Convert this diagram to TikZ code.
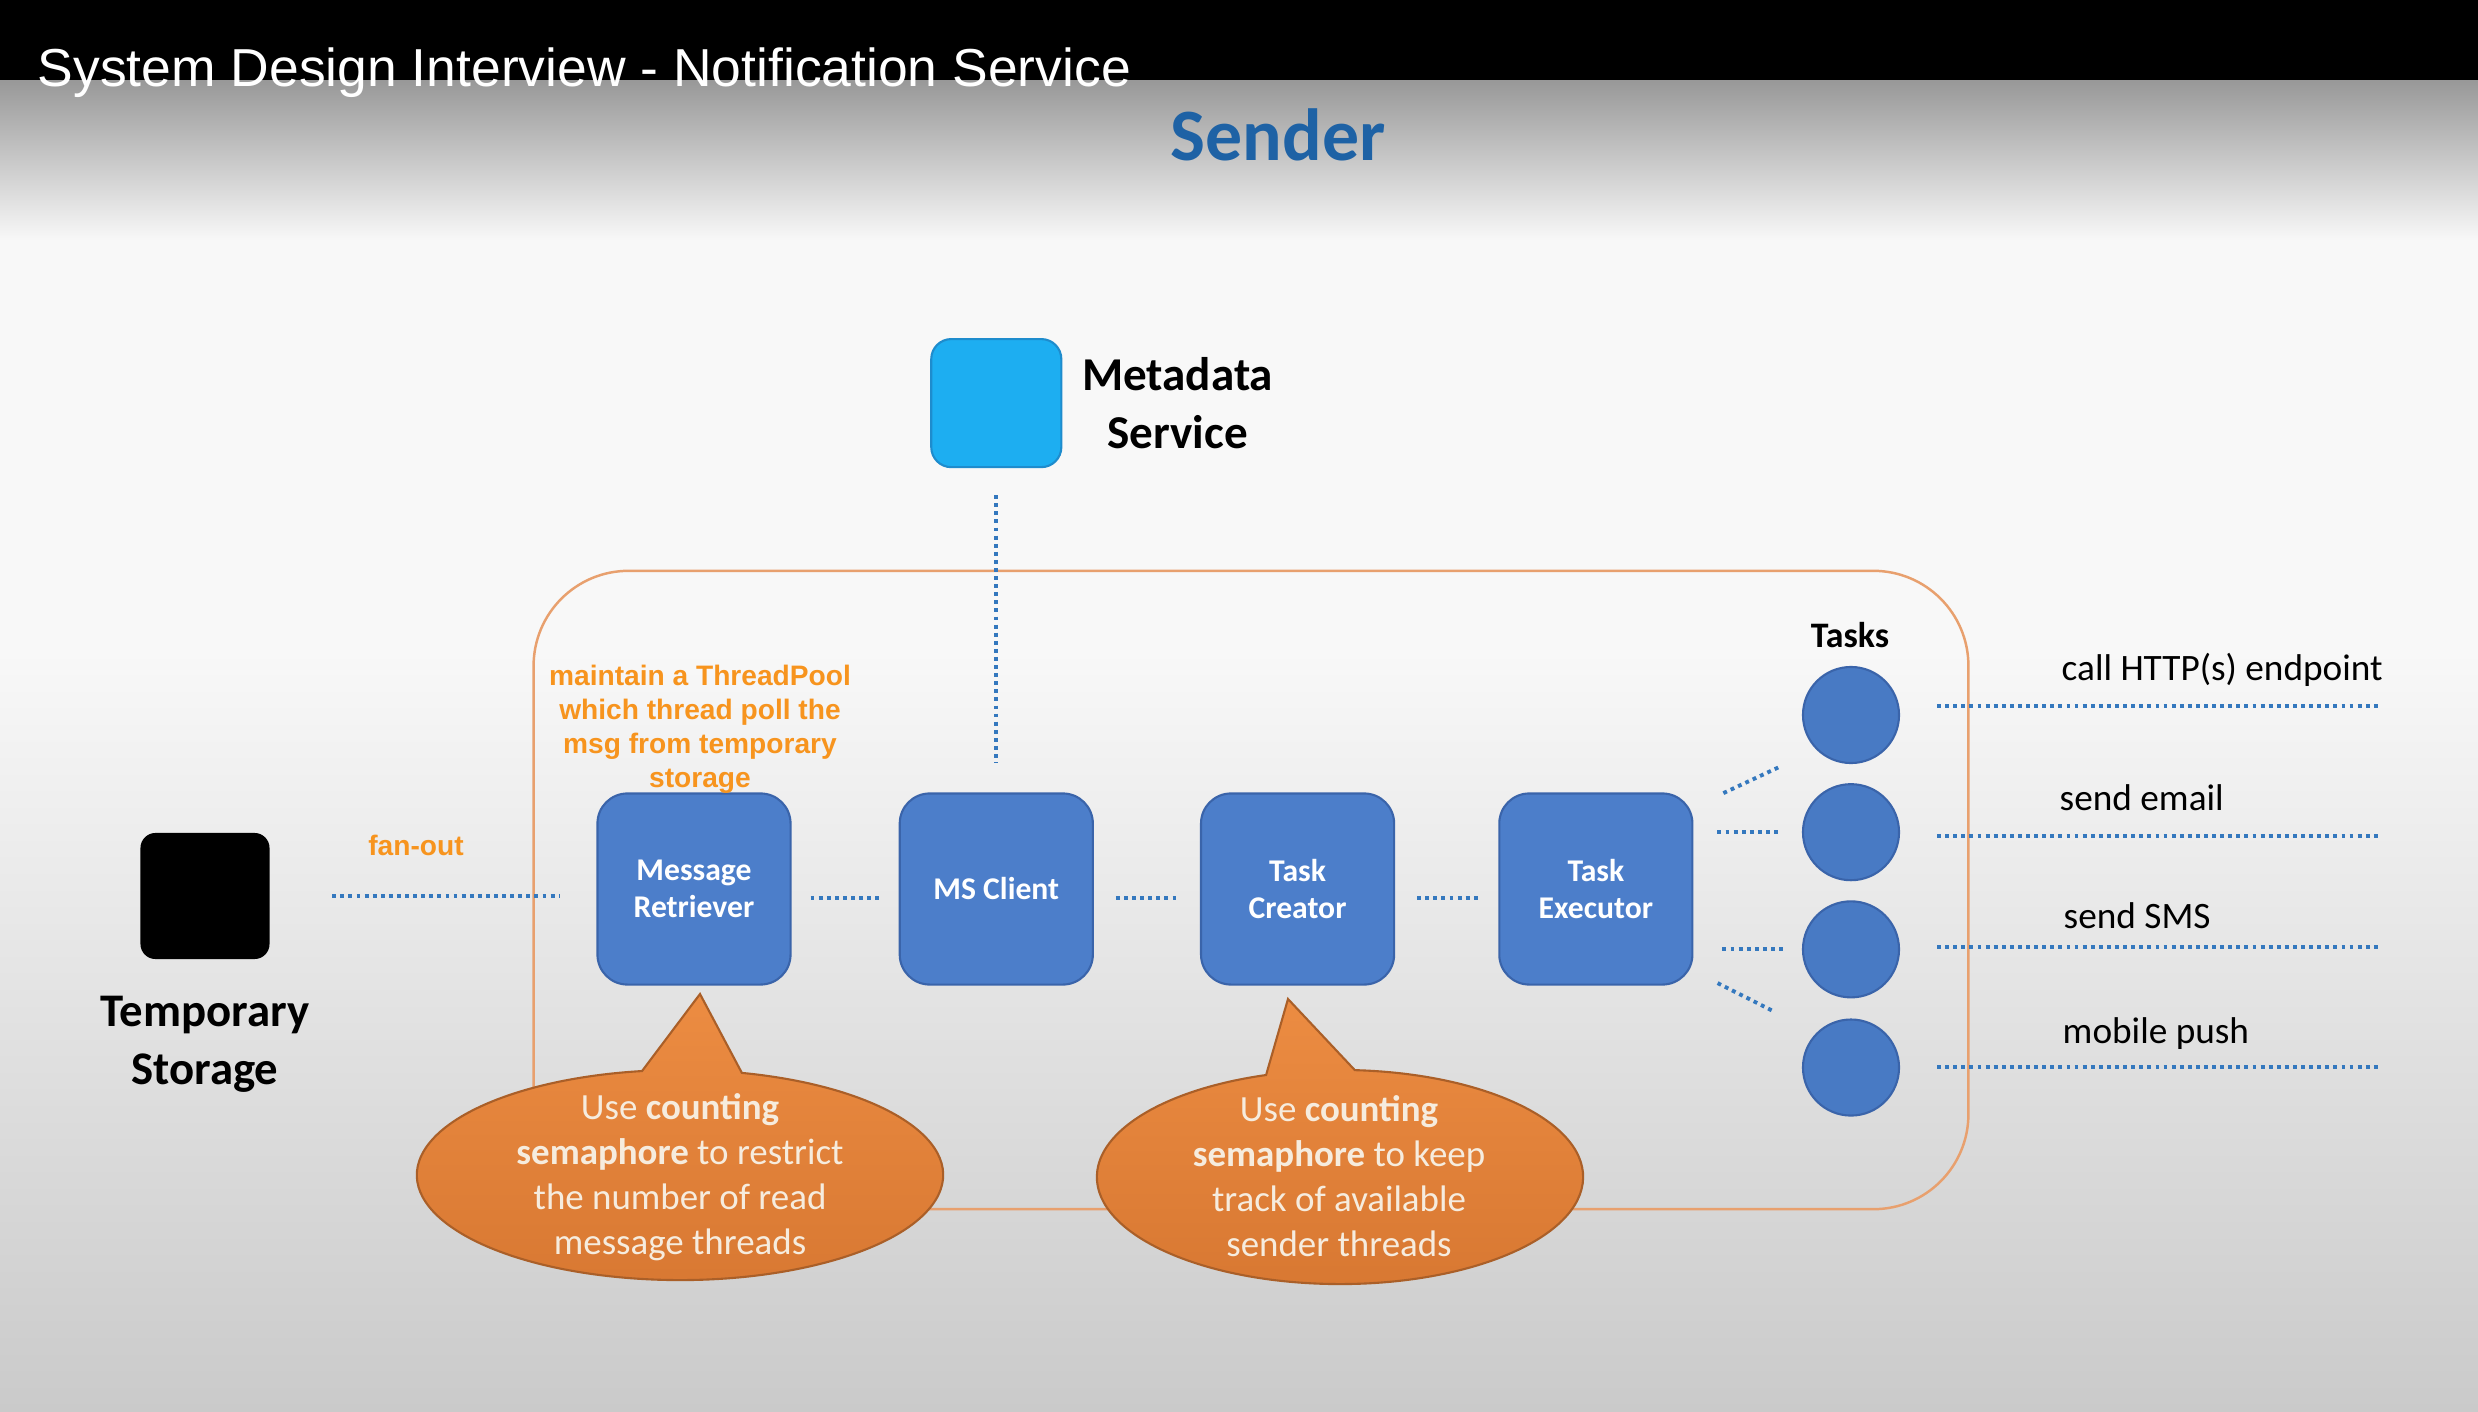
\documentclass[tikz,border=0pt]{standalone}
\usepackage{fontspec}
\setmainfont{Carlito}
\newfontfamily\arialfont{Liberation Sans}
\usetikzlibrary{positioning}
\definecolor{boxblue}{RGB}{76,126,202}
\definecolor{boxedge}{RGB}{58,100,170}
\definecolor{metacyan}{RGB}{29,174,241}
\definecolor{metaedge}{RGB}{30,140,205}
\definecolor{taskblue}{RGB}{72,122,196}
\definecolor{linkblue}{RGB}{52,120,190}
\definecolor{noteorange}{RGB}{247,148,30}
\definecolor{poolorange}{RGB}{232,160,110}
\definecolor{callouttop}{RGB}{236,140,66}
\definecolor{calloutbottom}{RGB}{216,120,50}
\definecolor{calloutedge}{RGB}{170,95,40}
\definecolor{callouttext}{RGB}{246,236,222}
\definecolor{senderblue}{RGB}{30,98,165}
\definecolor{bgtop}{RGB}{152,152,152}
\definecolor{bgwhite}{RGB}{248,248,248}
\definecolor{bgbottom}{RGB}{202,202,202}
\newcommand{\fsize}[2]{\fontsize{#1}{#2}\selectfont}

\begin{document}
\begin{tikzpicture}[x=0.01cm, y=-0.01cm,
    box/.style={draw=boxedge, fill=boxblue, line width=0.6pt, rounded corners=0.3cm,
        minimum width=1.93cm, minimum height=1.91cm, align=center, text=white,
        font=\fsize{9}{10.5}\bfseries},
    task/.style={circle, draw=boxedge, fill=taskblue, line width=0.6pt, minimum size=0.96cm, inner sep=0pt},
    link/.style={linkblue, line width=1.1pt, dash pattern=on 1.1pt off 1.2pt},
    callout/.style={draw=calloutedge, line width=0.6pt, top color=callouttop, bottom color=calloutbottom},
    calltext/.style={text=callouttext, align=center, inner sep=0pt, font=\fsize{10.5}{12.8}},
    plain/.style={inner sep=0pt, align=center}]
    \useasboundingbox (0,0) rectangle (2478,1412);

    % Background
    \fill[black] (0,0) rectangle (2478,80);
    \shade[top color=bgtop, bottom color=bgwhite] (0,80) rectangle (2478,240);
    \fill[bgwhite] (0,240) rectangle (2478,650);
    \shade[top color=bgwhite, bottom color=bgbottom] (0,650) rectangle (2478,1412);

    % Titles
    \node[plain, anchor=base west, text=white, font=\arialfont\fsize{15.2}{17}] (title) at (37,87)
        {System Design Interview - Notification Service};
    \node[plain, anchor=base, text=senderblue, font=\fsize{21}{24}\bfseries] (heading) at (1278,160) {Sender};

    % Sender pool
    \node[draw=poolorange, line width=0.7pt, rounded corners=0.95cm,
        minimum width=14.34cm, minimum height=6.38cm] (pool) at (1251,890) {};

    % Pipeline
    \node[box] (retriever) at (694,889) {Message\\Retriever};
    \node[box, right=1.07cm of retriever] (msclient) {MS Client};
    \node[box, right=1.06cm of msclient] (creator) {Task\\Creator};
    \node[box, right=1.03cm of creator] (executor) {Task\\Executor};

    % Metadata service
    \node[draw=metaedge, fill=metacyan, line width=0.6pt, rounded corners=0.2cm,
        minimum width=1.3cm, minimum height=1.28cm, above=3.24cm of msclient] (metadata) {};
    \node[plain, right=0.19cm of metadata, font=\fsize{13.4}{16.5}\bfseries] (metalabel) {Metadata\\Service};

    % Temporary storage
    \node[fill=black, rounded corners=0.15cm, minimum width=1.29cm, minimum height=1.26cm] (storage) at (205,896) {};
    \node[plain, below=0.36cm of storage, font=\fsize{13.3}{16.5}\bfseries] (storagelabel) {Temporary\\Storage};

    % Orange notes
    \node[plain, text=noteorange, font=\arialfont\bfseries\fsize{8}{9.7}] (poolnote) at (700,729)
        {maintain a ThreadPool\\which thread poll the\\msg from temporary\\storage};
    \node[plain, anchor=base, text=noteorange, font=\arialfont\bfseries\fsize{8}{9.7}] (fanout) at (416,855) {fan-out};

    % Tasks
    \node[task] (task1) at (1851,715) {};
    \node[task, below=0.19cm of task1] (task2) {};
    \node[task, below=0.19cm of task2] (task3) {};
    \node[task, below=0.2cm of task3] (task4) {};
    \node[plain, anchor=base, font=\fsize{10.2}{12}\bfseries] (taskslabel) at (1850,647) {Tasks};

    % Channels
    \coordinate (end1) at (2380,706);
    \coordinate (end2) at (2380,836);
    \coordinate (end3) at (2380,947);
    \coordinate (end4) at (2380,1067);
    \node[plain, anchor=base west, font=\fsize{10.6}{12}] (http) at (2061,680) {call HTTP(s) endpoint};
    \node[plain, anchor=base west, font=\fsize{10.6}{12}] (email) at (2059,810) {send email};
    \node[plain, anchor=base west, font=\fsize{10.6}{12}] (sms) at (2063,928) {send SMS};
    \node[plain, anchor=base west, font=\fsize{10.6}{12}] (push) at (2062,1043) {mobile push};

    % Links
    \draw[link, shorten <=0.62cm, shorten >=0.36cm] (storage) -- (storage -| retriever.west);
    \draw[link, shorten <=0.27cm, shorten >=0.3cm] (metadata) -- (metadata |- msclient.north);
    \draw[link, shorten <=0.19cm, shorten >=0.19cm] ([yshift=-0.09cm]retriever.east) -- ([yshift=-0.09cm]msclient.west);
    \draw[link, shorten <=0.22cm, shorten >=0.21cm] ([yshift=-0.09cm]msclient.east) -- ([yshift=-0.09cm]creator.west);
    \draw[link, shorten <=0.22cm, shorten >=0.18cm] ([yshift=-0.09cm]creator.east) -- ([yshift=-0.09cm]executor.west);
    \draw[link, shorten <=0.33cm, shorten >=0.42cm] (executor.40) -- (task1.225);
    \draw[link, shorten <=0.24cm, shorten >=0.2cm] (executor.east |- task2) -- (task2);
    \draw[link, shorten <=0.29cm, shorten >=0.15cm] (executor.east |- task3) -- (task3);
    \draw[link, shorten <=0.27cm, shorten >=0.46cm] (executor.-40) -- (task4.135);
    \draw[link, shorten <=0.37cm] (task1.east |- end1) -- (end1);
    \draw[link, shorten <=0.37cm] (task2.east |- end2) -- (end2);
    \draw[link, shorten <=0.37cm] (task3.east |- end3) -- (end3);
    \draw[link, shorten <=0.37cm] (task4.east |- end4) -- (end4);

    % Callouts
    \draw[callout] (700,994) -- ([shift={(76.4:2.63cm and 1.05cm)}]680,1175)
        arc[start angle=76.4, end angle=-261.7, x radius=2.63cm, y radius=1.05cm] -- cycle;
    \node[calltext] (readnote) at (680,1177)
        {Use \textbf{counting}\\\textbf{semaphore} to restrict\\the number of read\\message threads};
    \draw[callout] (1288,999) -- ([shift={(86.5:2.43cm and 1.07cm)}]1340,1177)
        arc[start angle=86.5, end angle=-252.3, x radius=2.43cm, y radius=1.07cm] -- cycle;
    \node[calltext] (sendnote) at (1339,1176)
        {Use \textbf{counting}\\\textbf{semaphore} to keep\\track of available\\sender threads};
\end{tikzpicture}
\end{document}
